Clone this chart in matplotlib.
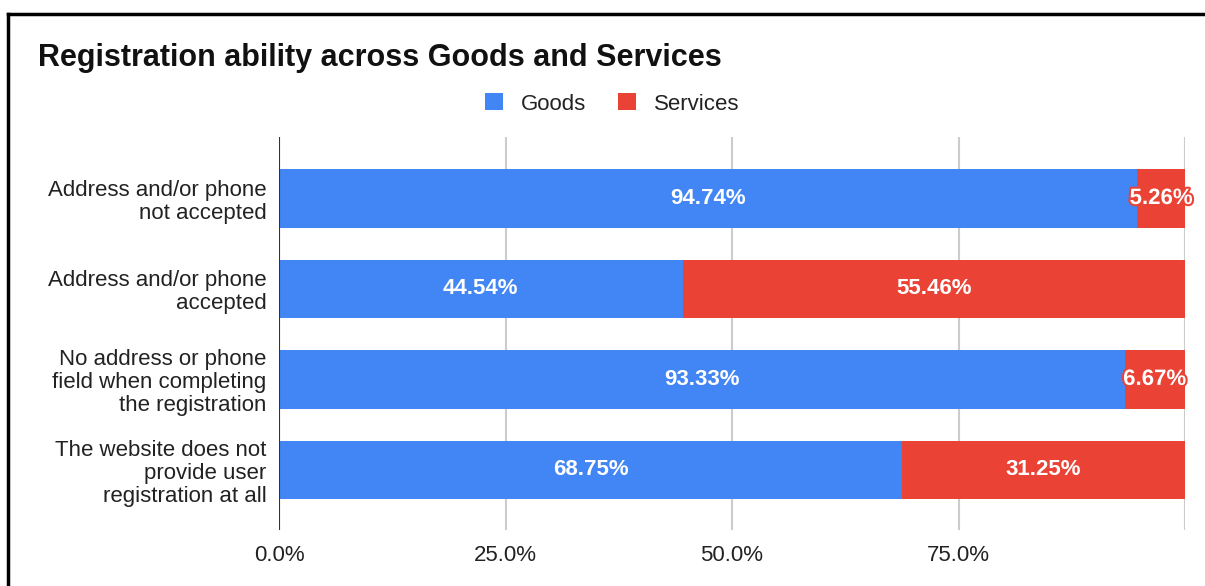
import matplotlib
matplotlib.use("Agg")
import matplotlib.pyplot as plt
import matplotlib.patheffects as pe
from matplotlib.patches import Patch
from matplotlib.lines import Line2D
import numpy as np

plt.rcParams['font.family'] = ['Liberation Sans', 'DejaVu Sans']

categories = [
    "Address and/or phone\nnot accepted",
    "Address and/or phone\naccepted",
    "No address or phone\nfield when completing\nthe registration",
    "The website does not\nprovide user\nregistration at all",
]
goods = [94.74, 44.54, 93.33, 68.75]
services = [5.26, 55.46, 6.67, 31.25]
xticks = [0, 25, 50, 75, 100]
xtick_labels = ["0.0%", "25.0%", "50.0%", "75.0%", ""]

BLUE = "#4285F4"
RED = "#EA4335"

fig = plt.figure(figsize=(12.05, 5.86), dpi=100)
ax = fig.add_axes([279/1205, 1-530/586, (1185-279)/1205, (530-137)/586])

y = np.arange(len(categories))
h = 0.645
ax.barh(y, goods, height=h, color=BLUE, zorder=3)
ax.barh(y, services, left=goods, height=h, color=RED, zorder=3)

for i in range(len(categories)):
    ax.text(goods[i] / 2, y[i], f"{goods[i]:.2f}%", ha="center", va="center",
            color="white", fontsize=16, fontweight="bold", zorder=5)
    t = ax.text(goods[i] + services[i] / 2, y[i], f"{services[i]:.2f}%", ha="center",
                va="center", color="white", fontsize=16, fontweight="bold", zorder=5)
    if services[i] < 10:
        t.set_path_effects([pe.withStroke(linewidth=3, foreground=RED)])

ax.set_xlim(0, 100)
ax.set_ylim(3.665, -0.68)
ax.set_xticks(xticks)
ax.set_xticklabels(xtick_labels, fontsize=16, color="#222222")
ax.set_yticks(y)
ax.set_yticklabels(categories, fontsize=16, color="#222222", linespacing=1.12)
ax.tick_params(axis="x", length=0, pad=11)
ax.tick_params(axis="y", length=0, pad=9)
ax.xaxis.grid(True, color="#cccccc", linewidth=1.5, zorder=0)
ax.yaxis.grid(False)
for s in ax.spines.values():
    s.set_visible(False)
ax.axvline(0, color="#333333", linewidth=1.5, zorder=4)

fig.text(38/1205, 1-58/586, "Registration ability across Goods and Services",
         fontsize=22, fontweight="bold", ha="left", va="center", color="#111111")

handles = [Patch(facecolor=BLUE, label="Goods"), Patch(facecolor=RED, label="Services")]
fig.legend(handles=handles, loc="center", bbox_to_anchor=(612/1205, 1-104/586),
           ncol=2, frameon=False, fontsize=16, handlelength=0.8, handleheight=0.8,
           handletextpad=0.8, columnspacing=1.45, labelcolor="#222222")

# frame edges
fig.add_artist(Line2D([8/1205, 8/1205], [0, 1-14/586], transform=fig.transFigure,
                      color="black", linewidth=2.5))
fig.add_artist(Line2D([8/1205, 1], [1-14/586, 1-14/586], transform=fig.transFigure,
                      color="black", linewidth=2.5))

fig.savefig("out.png", dpi=100)
